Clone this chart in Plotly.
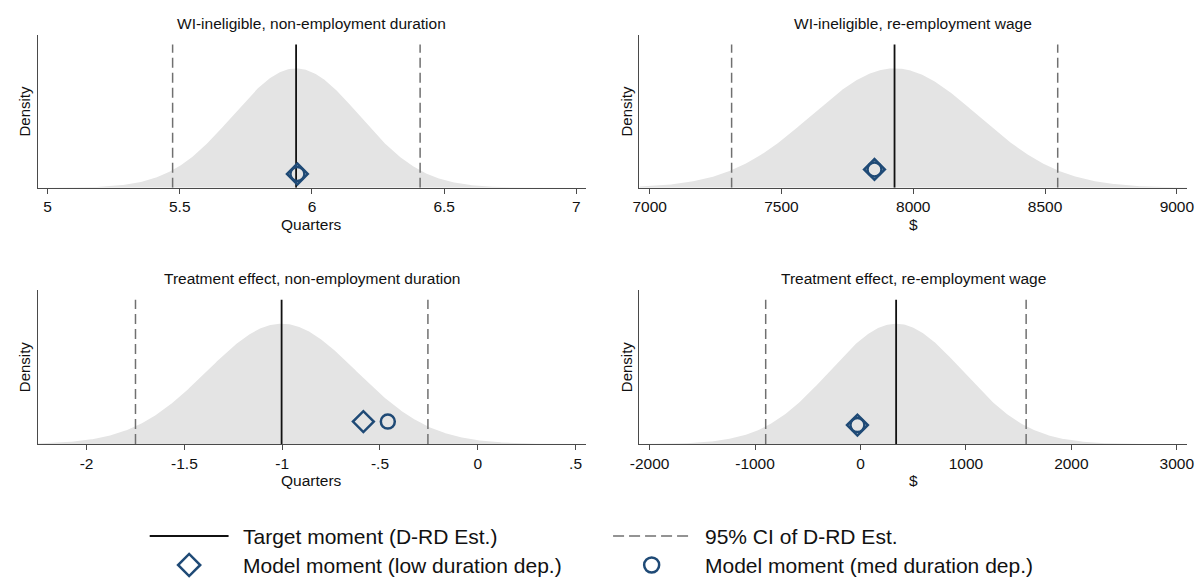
import numpy as np
import plotly.graph_objects as go

# ---------------- data ----------------
panel_titles = [
    "WI-ineligible, non-employment duration",
    "WI-ineligible, re-employment wage",
    "Treatment effect, non-employment duration",
    "Treatment effect, re-employment wage",
]
x_titles = ["Quarters", "$", "Quarters", "$"]
target_estimate = [5.940, 7929, -1.003, 338]
ci_low = [5.473, 7311, -1.750, -899]
ci_high = [6.409, 8548, -0.255, 1571]
model_low_dur = [5.945, 7853, -0.585, -29]
model_med_dur = [5.945, 7853, -0.460, -29]
marker_height = [0.115, 0.153, 0.186, 0.157]   # relative to density peak
x_ranges = [[4.962, 7.037], [6961.5, 9039], [-2.251, 0.554], [-2096, 3098]]
tick_vals = [
    [5, 5.5, 6, 6.5, 7],
    [7000, 7500, 8000, 8500, 9000],
    [-2, -1.5, -1, -0.5, 0, 0.5],
    [-2000, -1000, 0, 1000, 2000, 3000],
]
tick_text = [
    ["5", "5.5", "6", "6.5", "7"],
    ["7000", "7500", "8000", "8500", "9000"],
    ["-2", "-1.5", "-1", "-.5", "0", ".5"],
    ["-2000", "-1000", "0", "1000", "2000", "3000"],
]
legend_labels = [
    "Target moment (D-RD Est.)",
    "95% CI of D-RD Est.",
    "Model moment (low duration dep.)",
    "Model moment (med duration dep.)",
]

# ---------------- style / layout ----------------
W, H = 1204, 578
FONT = "Liberation Sans, Arial, Helvetica, sans-serif"
NAVY = "#1f4a76"
FILL = "#e4e4e4"
AXC = "#4a4a4a"
DASHC = "#707070"
FS = 15.5

col_px = [(27.9, 584.4), (638.5, 1194.0)]
row_px = [(35.0, 187.7), (290.0, 444.0)]
title_y = [23.3, 278.0]
xtitle_y = [224.3, 480.0]


def px(x):
    return x / W


def py(y):
    return 1 - y / H


fig = go.Figure()
annotations = []
layout = {}

for i in range(4):
    r, c = divmod(i, 2)
    suf = "" if i == 0 else str(i + 1)
    xr, yr = "x" + suf, "y" + suf
    mu = target_estimate[i]
    se = (ci_high[i] - ci_low[i]) / (2 * 1.96)
    peak = 1 / (se * np.sqrt(2 * np.pi))
    xs = np.linspace(x_ranges[i][0], x_ranges[i][1], 500)
    dens = peak * np.exp(-0.5 * ((xs - mu) / se) ** 2)

    fig.add_trace(go.Scatter(x=xs, y=dens, mode="lines", fill="tozeroy",
                             fillcolor=FILL, line=dict(width=0, color=FILL),
                             xaxis=xr, yaxis=yr, showlegend=False, hoverinfo="skip"))
    for v in (ci_low[i], ci_high[i]):
        fig.add_trace(go.Scatter(x=[v, v], y=[0, 1.2 * peak], mode="lines",
                                 line=dict(color=DASHC, width=1.5, dash="10px,5px"),
                                 xaxis=xr, yaxis=yr, showlegend=False))
    fig.add_trace(go.Scatter(x=[mu, mu], y=[0, 1.2 * peak], mode="lines",
                             line=dict(color="#111111", width=1.8),
                             xaxis=xr, yaxis=yr, showlegend=False))
    my = marker_height[i] * peak
    fig.add_trace(go.Scatter(x=[model_med_dur[i]], y=[my], mode="markers",
                             marker=dict(symbol="circle-open", size=14, color=NAVY,
                                         line=dict(width=2.5, color=NAVY)),
                             xaxis=xr, yaxis=yr, showlegend=False))
    fig.add_trace(go.Scatter(x=[model_low_dur[i]], y=[my], mode="markers",
                             marker=dict(symbol="diamond-open", size=16, color=NAVY,
                                         line=dict(width=2.5, color=NAVY)),
                             xaxis=xr, yaxis=yr, showlegend=False))

    x0, x1 = col_px[c]
    y0, y1 = row_px[r]
    layout["xaxis" + suf] = dict(
        domain=[px(x0), px(x1)], range=x_ranges[i], anchor=yr,
        tickmode="array", tickvals=tick_vals[i], ticktext=tick_text[i],
        showline=True, linecolor=AXC, linewidth=1.3, ticks="outside",
        ticklen=5, tickwidth=1.3, tickcolor=AXC, showgrid=False, zeroline=False,
        tickfont=dict(family=FONT, size=FS, color="#111111"), fixedrange=True)
    layout["yaxis" + suf] = dict(
        domain=[py(y1), py(y0)], range=[0, 1.28 * peak], anchor=xr,
        showline=True, linecolor=AXC, linewidth=1.3, showticklabels=False,
        ticks="", showgrid=False, zeroline=False, fixedrange=True)

    annotations.append(dict(text=panel_titles[i], x=px((x0 + x1) / 2), y=py(title_y[r]),
                            xref="paper", yref="paper", showarrow=False,
                            font=dict(family=FONT, size=FS, color="#111111"),
                            xanchor="center", yanchor="middle"))
    annotations.append(dict(text=x_titles[i], x=px((x0 + x1) / 2), y=py(xtitle_y[r]),
                            xref="paper", yref="paper", showarrow=False,
                            font=dict(family=FONT, size=FS, color="#111111"),
                            xanchor="center", yanchor="middle"))
    annotations.append(dict(text="Density", x=px(x0 - 13.5), y=py((y0 + y1) / 2),
                            xref="paper", yref="paper", showarrow=False, textangle=-90,
                            font=dict(family=FONT, size=15, color="#111111"),
                            xanchor="center", yanchor="middle"))

# ---------------- legend (drawn manually) ----------------
leg_rows = [536.0, 565.0]
leg_cols = [(141.7, 221.7, 234.0), (611.7, 690.0, 703.0)]
shapes = [
    dict(type="line", xref="paper", yref="paper", x0=px(leg_cols[0][0]), x1=px(leg_cols[0][1]),
         y0=py(leg_rows[0]), y1=py(leg_rows[0]), line=dict(color="#111111", width=1.8)),
    dict(type="line", xref="paper", yref="paper", x0=px(leg_cols[1][0]), x1=px(leg_cols[1][1]),
         y0=py(leg_rows[0]), y1=py(leg_rows[0]), line=dict(color=DASHC, width=1.5, dash="11px,5px")),
]
fig.add_trace(go.Scatter(x=[(leg_cols[0][0] + leg_cols[0][1]) / 2], y=[leg_rows[1]], mode="markers",
                         marker=dict(symbol="diamond-open", size=17, color=NAVY, line=dict(width=2.5, color=NAVY)),
                         xaxis="x5", yaxis="y5", showlegend=False, hoverinfo="skip"))
fig.add_trace(go.Scatter(x=[(leg_cols[1][0] + leg_cols[1][1]) / 2], y=[leg_rows[1]], mode="markers",
                         marker=dict(symbol="circle-open", size=15, color=NAVY, line=dict(width=2.5, color=NAVY)),
                         xaxis="x5", yaxis="y5", showlegend=False, hoverinfo="skip"))
layout["xaxis5"] = dict(domain=[0, 1], range=[0, W], visible=False, anchor="y5", fixedrange=True)
layout["yaxis5"] = dict(domain=[0, 1], range=[H, 0], visible=False, anchor="x5", fixedrange=True)

for k, lab in enumerate(legend_labels):
    rr, cc = divmod(k, 2)
    annotations.append(dict(text=lab, x=px(leg_cols[cc][2]), y=py(leg_rows[rr]),
                            xref="paper", yref="paper", showarrow=False,
                            font=dict(family=FONT, size=21, color="#111111"),
                            xanchor="left", yanchor="middle"))

fig.update_layout(width=W, height=H, margin=dict(l=0, r=0, t=0, b=0),
                  paper_bgcolor="white", plot_bgcolor="rgba(0,0,0,0)",
                  showlegend=False, annotations=annotations, shapes=shapes,
                  font=dict(family=FONT), **layout)

fig.write_html("out.html", config={"displayModeBar": False},
               post_script="document.body.style.margin='0';document.body.style.padding='0';"
                           "document.body.style.overflow='hidden';")
